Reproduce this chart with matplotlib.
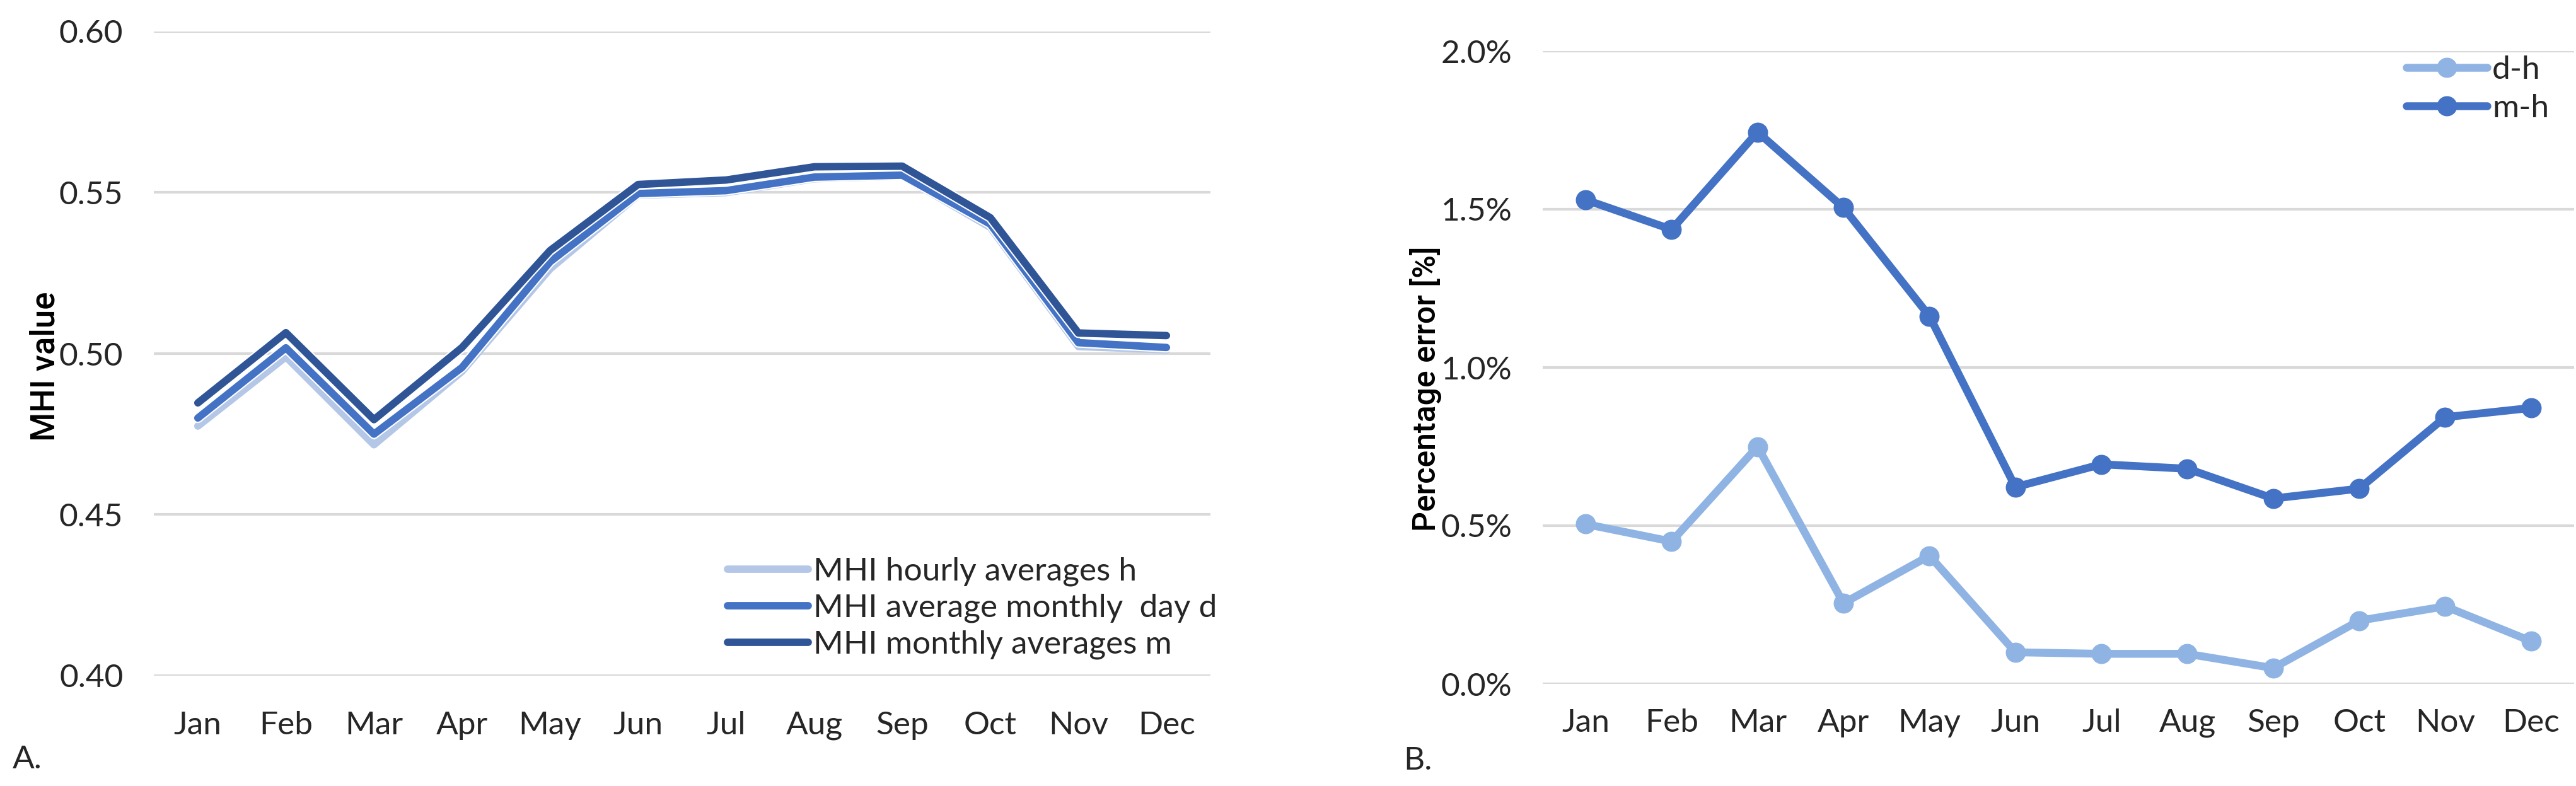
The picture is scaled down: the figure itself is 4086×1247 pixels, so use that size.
import matplotlib
matplotlib.use("Agg")
import matplotlib.pyplot as plt
import matplotlib.patheffects as pe
from matplotlib.ticker import FuncFormatter, MultipleLocator

plt.rcParams['font.family'] = ['Lato', 'DejaVu Sans']

months = ['Jan', 'Feb', 'Mar', 'Apr', 'May', 'Jun', 'Jul', 'Aug', 'Sep', 'Oct', 'Nov', 'Dec']

# panel A: MHI values
mhi_h = [0.4775, 0.4990, 0.4717, 0.4945, 0.5263, 0.5492, 0.5500, 0.5543, 0.5551, 0.5392, 0.5022, 0.5012]
mhi_d = [0.4800, 0.5018, 0.4750, 0.4957, 0.5285, 0.5497, 0.5506, 0.5548, 0.5554, 0.5402, 0.5034, 0.5019]
mhi_m = [0.4847, 0.5065, 0.4795, 0.5019, 0.5320, 0.5525, 0.5539, 0.5580, 0.5582, 0.5422, 0.5064, 0.5056]

# panel B: percentage error [%]
err_dh = [0.505, 0.450, 0.750, 0.255, 0.405, 0.100, 0.095, 0.095, 0.050, 0.200, 0.245, 0.135]
err_mh = [1.530, 1.436, 1.744, 1.505, 1.162, 0.622, 0.694, 0.680, 0.586, 0.617, 0.843, 0.872]

text_col = '#262626'
grid_col = '#d9d9d9'
fs = 37

W, H = 4087, 1247
fig = plt.figure(figsize=(W / 100, H / 100), dpi=100)


def style_axes(ax, xpad, ypad):
    for s in ax.spines.values():
        s.set_visible(False)
    ax.yaxis.grid(True, color=grid_col, linewidth=3)
    ax.set_axisbelow(True)
    ax.tick_params(axis='both', length=0, labelsize=fs, labelcolor=text_col)
    ax.tick_params(axis='x', pad=xpad)
    ax.tick_params(axis='y', pad=ypad)
    ax.set_xlim(-0.5, len(months) - 0.5)
    ax.set_xticks(range(len(months)))
    ax.set_xticklabels(months)


# ---- A ----
ax1 = fig.add_axes([244 / W, 1 - 1072 / H, 1676 / W, 1022 / H])
style_axes(ax1, 40, 35)
x = range(len(months))
lw = 8.5
halo = [pe.Stroke(linewidth=lw + 3, foreground='white'), pe.Normal()]
ax1.plot(x, mhi_h, color='#b4c7e7', lw=lw, solid_capstyle='round', solid_joinstyle='round',
         label='MHI hourly averages h')
ax1.plot(x, mhi_d, color='#4472c4', lw=lw, solid_capstyle='round', solid_joinstyle='round',
         label='MHI average monthly  day d', path_effects=halo)
ax1.plot(x, mhi_m, color='#2f5597', lw=lw, solid_capstyle='round', solid_joinstyle='round',
         label='MHI monthly averages m', path_effects=halo)
ax1.set_ylim(0.40, 0.60)
ax1.yaxis.set_major_locator(MultipleLocator(0.05))
ax1.yaxis.set_major_formatter(FuncFormatter(lambda v, p: f'{v:.2f}'))
leg1 = ax1.legend(loc='upper left', bbox_to_anchor=(1154 / W, 1 - 884 / H),
                  bbox_transform=fig.transFigure, frameon=False, fontsize=fs,
                  handlelength=2.5, handletextpad=0.15, labelspacing=0.22,
                  borderpad=0, borderaxespad=0)
for t in leg1.get_texts():
    t.set_color(text_col)

fig.text(72 / W, 1 - 581 / H, 'MHI value', rotation=90, ha='center', va='center',
         fontsize=38, color='black', family=['Roboto', 'DejaVu Sans'], fontweight='medium')
fig.text(20 / W, 1 - 1205 / H, 'A.', ha='left', va='center', fontsize=fs, color=text_col)

# ---- B ----
ax2 = fig.add_axes([2447 / W, 1 - 1085 / H, 1636 / W, 1004 / H])
style_axes(ax2, 28, 35)
ax2.plot(x, err_dh, color='#8fb4e3', lw=9, marker='o', markersize=22,
         solid_joinstyle='round', solid_capstyle='round', label='d-h')
ax2.plot(x, err_mh, color='#4472c4', lw=9, marker='o', markersize=22,
         solid_joinstyle='round', solid_capstyle='round', label='m-h')
ax2.set_ylim(0, 2.0)
ax2.yaxis.set_major_locator(MultipleLocator(0.5))
ax2.yaxis.set_major_formatter(FuncFormatter(lambda v, p: f'{v:.1f}%'))
leg2 = ax2.legend(loc='upper left', bbox_to_anchor=(3817 / W, 1 - 88 / H),
                  bbox_transform=fig.transFigure, frameon=False, fontsize=fs,
                  handlelength=2.5, handletextpad=0.15, labelspacing=0.3,
                  borderpad=0, borderaxespad=0)
for t in leg2.get_texts():
    t.set_color(text_col)

fig.text(2262 / W, 1 - 617 / H, 'Percentage error [%]', rotation=90, ha='center', va='center',
         fontsize=36, color='black', family=['Roboto', 'DejaVu Sans'], fontweight='medium')
fig.text(2226 / W, 1 - 1207 / H, 'B.', ha='left', va='center', fontsize=fs, color=text_col)

fig.savefig('out.png', dpi=100, facecolor='white')
